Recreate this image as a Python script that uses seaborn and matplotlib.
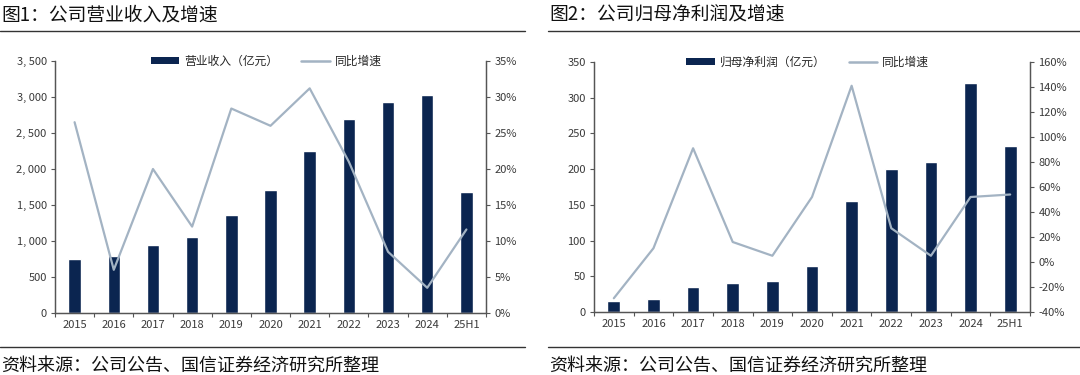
import matplotlib
matplotlib.use("Agg")
import matplotlib.pyplot as plt
import seaborn as sns
from matplotlib.patches import Patch
from matplotlib.lines import Line2D
from matplotlib.ticker import FuncFormatter, MultipleLocator

# Data
years = ['2015', '2016', '2017', '2018', '2019', '2020', '2021', '2022', '2023', '2024', '25H1']
revenue = [745, 790, 945, 1060, 1360, 1710, 2250, 2700, 2930, 3030, 1680]
revenue_growth = [26.5, 6.0, 20.0, 12.0, 28.4, 26.0, 31.2, 21.0, 8.5, 3.5, 11.6]
profit = [16, 18, 35, 41, 43, 65, 156, 200, 210, 320, 233]
profit_growth = [-29, 11, 91, 16, 5, 52, 141, 27, 5, 52, 54]

titles = ['图1：公司营业收入及增速', '图2：公司归母净利润及增速']
bar_labels = ['营业收入（亿元）', '归母净利润（亿元）']
line_label = '同比增速'
source = '资料来源：公司公告、国信证券经济研究所整理'

sns.set_theme(style="white")
plt.rcParams['font.family'] = ['Noto Sans CJK SC', 'DejaVu Sans']

bar_color = '#0b2550'
line_color = '#a3b3c3'
tick_color = '#3a3a3a'

fig = plt.figure(figsize=(10.8, 3.75), dpi=100)
W, H = 1080, 375


def box(l, t, r, b):
    return [l / W, 1 - b / H, (r - l) / W, (b - t) / H]


def draw_panel(rect, bars, growth, bar_label, ylim, ystep, ylim2, ystep2, thousands):
    ax = fig.add_axes(rect)
    sns.barplot(x=years, y=bars, color=bar_color, width=0.32, saturation=1, ax=ax)
    ax.set_ylim(*ylim)
    ax.yaxis.set_major_locator(MultipleLocator(ystep))
    if thousands:
        ax.yaxis.set_major_formatter(FuncFormatter(lambda v, p: f'{v:,.0f}'.replace(',', ', ')))
    ax2 = ax.twinx()
    sns.pointplot(x=years, y=growth, color=line_color, marker='', linewidth=1.6, ax=ax2)
    ax2.set_ylim(*ylim2)
    ax2.yaxis.set_major_locator(MultipleLocator(ystep2))
    ax2.yaxis.set_major_formatter(FuncFormatter(lambda v, p: f'{v:.0f}%'))
    ax.set_xlim(-0.5, len(years) - 0.5)
    for a in (ax, ax2):
        a.set_xlabel('')
        a.set_ylabel('')
        a.spines['top'].set_visible(False)
        for s in ('left', 'right', 'bottom'):
            a.spines[s].set_color('#555555')
            a.spines[s].set_linewidth(0.9)
        a.tick_params(axis='y', direction='out', length=3, width=0.8, color='#555555',
                      labelsize=8, labelcolor=tick_color, pad=3)
    ax2.tick_params(axis='y', left=False, right=True)
    ax.tick_params(axis='y', left=True)
    # x ticks at the boundaries between categories, labels centred
    ax.set_xticks([i - 0.5 for i in range(len(years) + 1)], minor=False)
    ax.set_xticklabels([])
    ax.set_xticks(range(len(years)), minor=True)
    ax.set_xticklabels(years, minor=True)
    ax.tick_params(axis='x', which='major', direction='out', length=3, width=0.8,
                   color='#555555', bottom=True)
    ax.tick_params(axis='x', which='minor', length=0, labelsize=8, labelcolor=tick_color, pad=5)
    handles = [Patch(facecolor=bar_color, edgecolor='none', label=bar_label),
               Line2D([], [], color=line_color, lw=1.8, label=line_label)]
    ax.legend(handles=handles, loc='lower center', bbox_to_anchor=(0.49, 0.955), ncol=2,
              frameon=False, fontsize=8.5, handlelength=2.4, handleheight=0.55,
              columnspacing=2.0, handletextpad=0.4, borderaxespad=0)
    return ax


draw_panel(box(55, 61, 486, 313), revenue, revenue_growth, bar_labels[0],
           (0, 3500), 500, (0, 35), 5, True)
draw_panel(box(594, 62, 1030, 312), profit, profit_growth, bar_labels[1],
           (0, 350), 50, (-40, 160), 20, False)

# titles, rules and source notes
for x0, x1, title in [(0, 525, titles[0]), (548, 1080, titles[1])]:
    fig.text((x0 + 1) / W, 1 - 15 / H, title, fontsize=13.5, va='center', ha='left',
             color='#111111', fontweight='medium')
    fig.add_artist(Line2D([x0 / W, x1 / W], [1 - 31 / H] * 2, color='#333333', lw=1))
    fig.add_artist(Line2D([x0 / W, x1 / W], [1 - 347 / H] * 2, color='#333333', lw=1))
    fig.text((x0 + 1) / W, 1 - 366 / H, source, fontsize=13, va='center', ha='left', color='#111111')

fig.savefig('out.png', dpi=100, facecolor='white')
